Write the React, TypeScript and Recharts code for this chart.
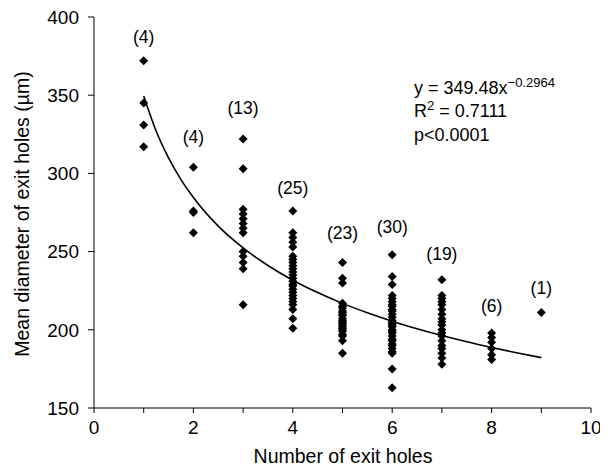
import React from 'react';
import { ScatterChart, Scatter, XAxis, YAxis, ZAxis } from 'recharts';

const holeCounts = [1, 2, 3, 4, 5, 6, 7, 8, 9];
const diam1 = [372, 345, 331, 317];
const diam2 = [304, 276, 275, 262];
const diam3 = [322, 303, 277, 274, 271, 268, 265, 262, 250, 247, 243, 239, 216];
const diam4 = [276, 262, 259, 256, 253, 247, 245, 243, 241, 239, 237, 235, 233, 231, 229, 228, 226, 224, 222, 220, 218, 216, 213, 207, 201];
const diam5 = [243, 233, 230, 217, 215, 214, 212, 211, 210, 209, 207, 206, 205, 204, 203, 202, 201, 200, 199, 197, 196, 193, 185];
const diam6 = [248, 234, 229, 222, 220, 218, 216, 215, 213, 212, 210, 208, 206, 205, 204, 203, 202, 200, 199, 198, 196, 194, 193, 191, 190, 188, 186, 185, 175, 163];
const diam7 = [232, 222, 220, 218, 216, 213, 210, 207, 205, 203, 200, 198, 196, 193, 190, 188, 185, 182, 178];
const diam8 = [198, 195, 192, 188, 184, 181];
const diam9 = [211];
const diameters = [diam1, diam2, diam3, diam4, diam5, diam6, diam7, diam8, diam9];

const countLabels = ['(4)', '(4)', '(13)', '(25)', '(23)', '(30)', '(19)', '(6)', '(1)'];
const countLabelY = [387, 323, 341.5, 290.5, 262, 265.5, 248.5, 215.5, 226.5];

const curveX = [1, 1.25, 1.5, 1.75, 2, 2.5, 3, 3.5, 4, 4.5, 5, 5.5, 6, 6.5, 7, 7.5, 8, 8.5, 9];
const curveY = [349.5, 327.1, 309.9, 296.0, 284.6, 266.3, 252.4, 241.1, 231.7, 223.8, 216.9, 210.9, 205.5, 200.7, 196.3, 192.3, 188.7, 185.3, 182.2];

const xTicks = [0, 1, 2, 3, 4, 5, 6, 7, 8, 9, 10];
const yTicks = [150, 200, 250, 300, 350, 400];

const points = holeCounts.flatMap((x, i) => diameters[i].map((y) => ({ x, y })));
const labelPoints = holeCounts.map((x, i) => ({ x, y: countLabelY[i], text: countLabels[i] }));
const curve = curveX.map((x, i) => ({ x, y: curveY[i] }));

const FONT = '"Liberation Sans", Arial, Helvetica, sans-serif';

const Diamond = (props: any) => {
  const { cx, cy } = props;
  const r = 4.5;
  return <polygon points={`${cx},${cy - r} ${cx + r},${cy} ${cx},${cy + r} ${cx - r},${cy}`} fill="#000" />;
};

const CountLabel = (props: any) => {
  const { cx, cy, payload } = props;
  return (
    <text x={cx} y={cy} textAnchor="middle" dominantBaseline="central" fontSize={17.5} fontFamily={FONT} fill="#000">
      {payload.text}
    </text>
  );
};

export default function App() {
  const W = 600;
  const H = 464;
  const tickStyle = { fontSize: 19, fontFamily: FONT, fill: '#000' };
  return (
    <div style={{ position: 'relative', width: W, height: H }}>
      <ScatterChart width={W} height={H} margin={{ top: 9, right: 17, left: 26, bottom: 14 }} style={{ overflow: 'visible' }}>
        <XAxis
          type="number"
          dataKey="x"
          domain={[0, 10]}
          ticks={xTicks}
          interval={0}
          tickFormatter={(v: number) => (v % 2 === 0 ? String(v) : '')}
          height={50}
          tickSize={5}
          tickMargin={8}
          stroke="#000"
          tick={tickStyle}
          axisLine={{ stroke: '#000', strokeWidth: 1 }}
          tickLine={{ stroke: '#000', strokeWidth: 1 }}
        />
        <YAxis
          type="number"
          dataKey="y"
          domain={[150, 400]}
          ticks={yTicks}
          interval={0}
          width={60}
          tickSize={6}
          tickMargin={9}
          stroke="#000"
          tick={tickStyle}
          axisLine={{ stroke: '#000', strokeWidth: 1 }}
          tickLine={{ stroke: '#000', strokeWidth: 1 }}
        />
        <ZAxis range={[60, 60]} />
        <Scatter data={points} shape={<Diamond />} isAnimationActive={false} />
        <Scatter
          data={curve}
          line={{ stroke: '#000', strokeWidth: 1.6 }}
          lineJointType="monotoneX"
          shape={() => null}
          isAnimationActive={false}
        />
        <Scatter data={labelPoints} shape={<CountLabel />} isAnimationActive={false} />
      </ScatterChart>
      <svg width={W} height={H} style={{ position: 'absolute', left: 0, top: 0, pointerEvents: 'none' }}>
        <text x={335} y={448} textAnchor="middle" dominantBaseline="central" fontSize={19.5} fontFamily={FONT} fill="#000">
          Number of exit holes
        </text>
        <text
          x={14}
          y={206}
          transform="rotate(-90 14 206)"
          textAnchor="middle"
          dominantBaseline="central"
          fontSize={19.5}
          fontFamily={FONT}
          fill="#000"
        >
          Mean diameter of exit holes (µm)
        </text>
        <text x={406} y={86} fontSize={18} fontFamily={FONT} fill="#000">
          y = 349.48x
          <tspan fontSize={13} dy={-7}>−0.2964</tspan>
        </text>
        <text x={406} y={109} fontSize={18} fontFamily={FONT} fill="#000">
          R<tspan fontSize={13} dy={-7}>2</tspan>
          <tspan dy={7}> = 0.7111</tspan>
        </text>
        <text x={406} y={133} fontSize={18} fontFamily={FONT} fill="#000">
          p&lt;0.0001
        </text>
      </svg>
    </div>
  );
}
